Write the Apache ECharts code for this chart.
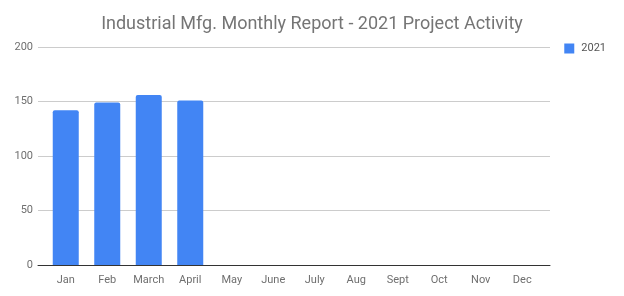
<!DOCTYPE html>
<html><head><meta charset="utf-8">
<script src="https://cdn.jsdelivr.net/npm/echarts@6/dist/echarts.min.js"></script>
<style>html,body{margin:0;padding:0;background:#fff}#c{width:624px;height:296px}</style>
</head><body><div id="c"></div>
<script>
const titleText = "Industrial Mfg. Monthly Report - 2021 Project Activity";
const categories = ["Jan","Feb","March","April","May","June","July","Aug","Sept","Oct","Nov","Dec"];
const seriesName = "2021";
const values2021 = [142, 149, 156, 151, null, null, null, null, null, null, null, null];
const yTicks = [0, 50, 100, 150, 200];

const labelFont = {fontFamily:'Roboto',fontSize:11,color:'#6f6f6f'};
const chart = echarts.init(document.getElementById('c'), null, {renderer:'canvas'});
chart.setOption({
  animation:false,
  title:{text:titleText,left:'center',top:10,textStyle:{fontFamily:'Roboto',fontSize:18,fontWeight:'normal',color:'#757575'}},
  legend:{data:[seriesName],right:13,top:38,itemWidth:10,itemHeight:10,icon:'rect',itemGap:10,
    textStyle:Object.assign({},labelFont,{color:'#555',padding:[0,0,0,2]})},
  grid:[
    {left:38,right:74,top:47,bottom:31},
    {left:45,right:81,top:47,bottom:31}
  ],
  xAxis:[
    {type:'category',gridIndex:0,data:[''],axisTick:{show:false},axisLabel:{show:false},
      axisLine:{lineStyle:{color:'#333',width:1}}},
    {type:'category',gridIndex:1,data:categories,axisTick:{show:false},axisLine:{show:false},
      axisLabel:Object.assign({},labelFont,{margin:10})}
  ],
  yAxis:[
    {type:'value',gridIndex:0,min:yTicks[0],max:yTicks[yTicks.length-1],interval:50,axisLine:{show:false},axisTick:{show:false},
      splitLine:{lineStyle:{color:'#cccccc'}},axisLabel:Object.assign({},labelFont,{margin:5})},
    {type:'value',gridIndex:1,min:yTicks[0],max:yTicks[yTicks.length-1],interval:50,show:false,splitLine:{show:false}}
  ],
  series:[{name:seriesName,type:'bar',xAxisIndex:1,yAxisIndex:1,data:values2021,barWidth:26,
    itemStyle:{color:'#4285f4',borderRadius:[2,2,0,0]}}]
});
</script></body></html>
